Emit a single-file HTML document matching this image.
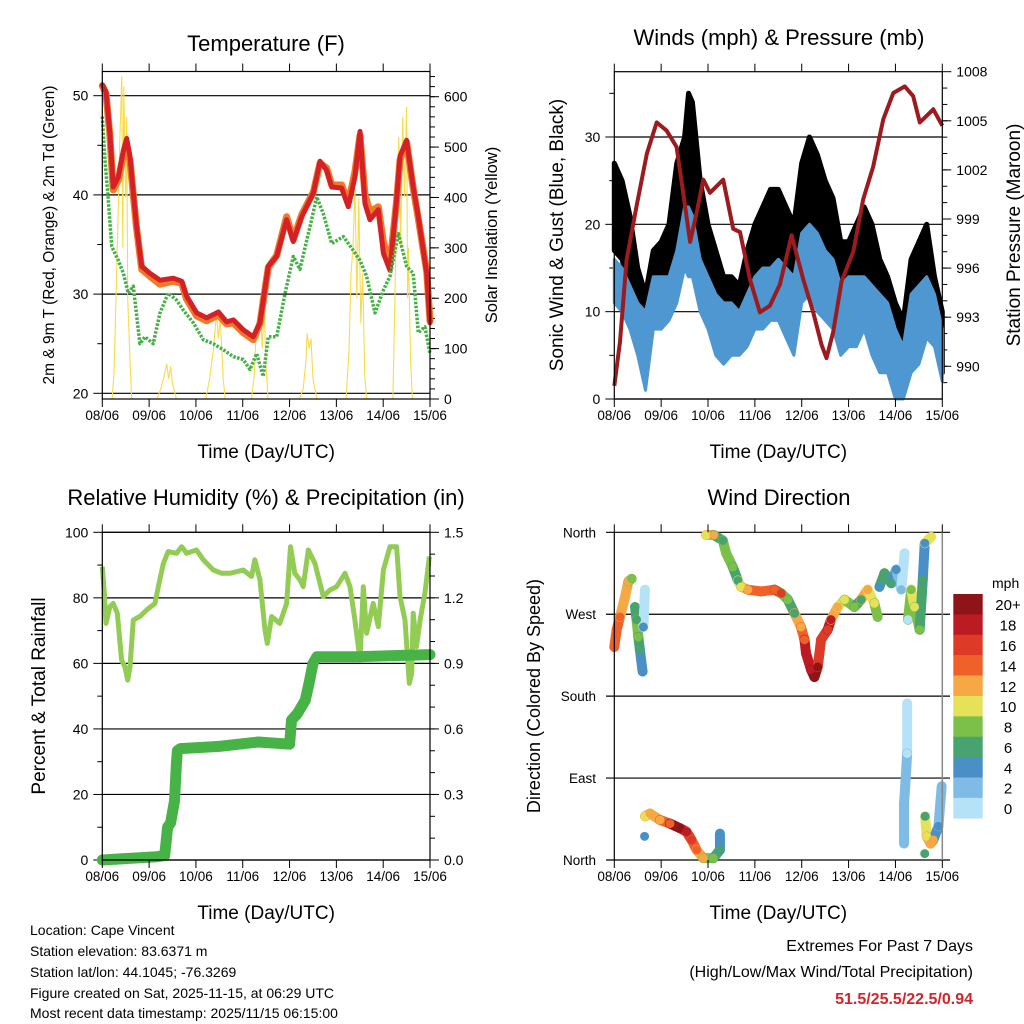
<!DOCTYPE html>
<html><head><meta charset="utf-8">
<style>
body{margin:0;background:#fff;}
svg{display:block;font-family:"Liberation Sans",Arial,sans-serif;}
</style></head>
<body>
<svg id="fig" width="1024" height="1024" viewBox="0 0 1024 1024" xmlns="http://www.w3.org/2000/svg">
<rect width="1024" height="1024" fill="#fff"/>
<g id="root"></g>
<g font-size="14" fill="#000">
<text x="30" y="935">Location: Cape Vincent</text>
<text x="30" y="956">Station elevation: 83.6371 m</text>
<text x="30" y="977">Station lat/lon: 44.1045; -76.3269</text>
<text x="30" y="998">Figure created on Sat, 2025-11-15, at 06:29 UTC</text>
<text x="30" y="1018">Most recent data timestamp: 2025/11/15 06:15:00</text>
</g>
<g text-anchor="end">
<text x="973" y="951" font-size="16">Extremes For Past 7 Days</text>
<text x="973" y="977" font-size="16">(High/Low/Max Wind/Total Precipitation)</text>
<text x="973" y="1004" font-size="16" font-weight="bold" fill="#d0262b">51.5/25.5/22.5/0.94</text>
</g>
</svg>
<script>
// ---------- DATA ----------
const dayLabels = ["08/06","09/06","10/06","11/06","12/06","13/06","14/06","15/06"];
// Temperature (hours since 08/06 00 UTC)
const t2T = [0,1.9,3.9,5.6,8.2,10.8,12.5,14.2,15.9,17.6,20.2,24.4,29.6,36.4,40.7,43.2,48.4,53.5,59.5,63.7,67.2,72.3,77.4,80.8,85.1,89.4,94.5,97.9,102.2,108.2,111.6,115,117.6,122.7,126.1,129.5,132.1,134.7,137.2,141.5,144.1,147.5,150.9,152.6,156,159.4,162,166.3,168];
const t2V = [51.1,50.4,46.2,40.8,41.8,44.5,45.7,43.9,40.2,36.8,32.8,32.1,31.4,31.6,31.3,29.8,28.1,27.6,28.2,27.2,27.4,26.4,25.7,27.1,32.8,33.8,37.5,35.3,37.8,40.2,43.4,42.5,40.8,40.7,38.8,41.8,46.4,39.1,37.5,38.5,34.1,32.4,39.5,43.9,45.5,40.8,37.8,32.1,27.1];
const t9V = [51.0,50.2,46.0,40.5,41.5,44.0,44.5,43.5,40.0,36.6,32.5,31.8,31.0,31.3,31.1,29.5,27.8,27.3,27.9,27.0,27.1,26.1,25.4,27.0,32.7,33.9,37.8,35.5,38.0,40.3,43.2,42.7,41.0,41.0,39.2,42.3,46.0,40.0,38.3,38.8,35.2,33.0,39.4,43.5,45.3,40.7,37.6,32.3,27.3];
const tdT = [0,1.4,3.1,4.8,8.2,10.8,13.3,15.9,19.3,21.9,26.1,29.6,33.8,38.1,41.5,46.7,51.8,56.9,62,67.2,72.3,75.7,79.1,82.5,85.1,89.4,93.7,97.9,101.3,106.5,109.9,113.3,117.6,123.6,128.7,132.1,135.5,139.8,144.1,147.5,151.8,156,159.4,162,165.4,168];
const tdV = [47.9,43.5,39.5,34.8,33.4,32.1,30.1,30.8,25.0,25.7,25.0,28.1,30.1,29.4,28.4,27.1,25.4,25.0,24.4,23.7,23.4,22.4,24.0,21.7,25.7,25.7,30.1,33.8,32.5,36.8,39.8,38.1,35.1,35.8,34.4,33.4,31.8,28.1,30.4,31.8,36.1,32.8,32.1,26.1,26.7,24.0];
const solT = [5,6,7,8,9,10,10.5,11,12,12.5,13,14,15, 28,30,32,33,34,35,36,38, 53,55,57,58.5,59.5,60.5,62,63, 76.5,78,79,80,81,82,83,84,85, 101,103,104.5,105,106,107,108,110, 125,126.5,127.5,128.5,129.5,130.5,131.5,132.5,133.5,134.5,135.5, 149,150,151,152,153,154,155,156,156.5,157,158,159];
const solV = [0,50,200,350,520,640,300,620,400,560,200,100,0, 0,20,50,70,40,65,30,0, 0,40,100,170,120,160,40,0, 0,50,150,120,200,100,180,60,0, 0,20,80,130,100,120,40,0, 0,100,250,300,420,200,400,150,250,50,0, 0,200,400,520,300,560,400,580,200,300,80,0];
// Winds & pressure
const wT = [0,4,8,12,16,20,24,28,32,36,38,40,44,48,52,56,60,64,68,72,76,80,84,88,92,96,100,104,108,112,116,120,124,128,132,136,140,144,148,152,156,160,164,168];
const gustLo = [17,16,12,9,8,13,13,14,16,18,18,17,14,12,9,8,8,9,10,12,14,14,15,12,13,18,20,17,16,13,10,11,12,15,12,8,7,3,2,8,9,12,10,3];
const gustHi = [27,25,21,15,12,17,18,20,27,30,35,34,25,20,17,14,14,13,17,20,22,24,24,22,20,27,30,28,25,23,18,18,20,22,20,16,14,11,9,16,18,20,14,10];
const windLo = [11,10,8,5,1,8,8,9,11,15,14,14,10,8,5,4,5,5,6,8,8,9,9,7,5,11,12,10,9,8,5,6,6,8,5,3,3,0,0,3,4,7,6,2];
const windHi = [16,15,13,11,10,14,14,14,17,22,22,21,16,14,12,11,11,10,12,14,15,15,16,15,14,19,20,19,17,16,13,14,14,14,13,12,11,8,6,12,13,14,12,8];
const presT = [0,2.9,6.3,11.4,16.7,21.7,26.8,31.9,35.3,38.8,42.2,45.6,49,55.8,60.9,64.4,69.5,74.6,79.7,84.8,90.8,96.8,101.9,106.2,108.7,112.1,116.4,122.4,127.5,132.6,137.8,142.9,148.8,153.1,156.5,159.9,163.4,168];
const presV = [988.8,991.5,996.5,999.8,1003.0,1004.9,1004.4,1003.4,1000.6,997.6,999.4,1001.4,1000.6,1001.4,998.4,998.2,995.3,993.3,993.7,995.0,998.0,995.3,993.3,991.3,990.5,992.1,995.2,997.0,1000.2,1002.2,1005.1,1006.7,1007.1,1006.5,1004.9,1005.3,1005.7,1004.7];
// RH & precip
const rhT = [0,0.9,1.9,3.9,5.6,7.7,9.9,11.6,13,14.2,15.9,19.3,22.7,27,28.7,31.3,33.8,38.1,40.7,43.2,48.3,51.8,56.9,61.2,65.4,72.3,76.5,78.2,80.8,83.4,84.6,86.8,91,94.5,96.5,98.7,101.3,103,105.6,109,113.3,116.7,120.1,124.4,127,129.5,132.1,133.8,135.5,138.9,141.5,144.1,147.5,150.9,152.6,155.2,157.4,158.6,159.4,161.1,162.9,165.4,167.7];
const rhV = [89.5,82.4,72.2,77.3,78.3,75.3,61.0,59.0,54.9,59.0,73.2,74.3,76.3,78.3,83.4,90.5,94.1,93.6,95.6,93.6,94.6,91.6,88.5,87.5,87.5,88.5,86.5,91.6,85.5,70.2,66.1,74.3,72.2,78.3,95.6,87.5,85.5,83.4,94.6,90.5,80.4,82.4,83.4,87.5,83.4,73.2,61.0,83.4,69.2,78.3,71.2,88.5,95.6,95.6,80.4,73.2,53.9,57.0,75.3,65.1,73.2,81.4,92.6];
const prT = [0,28,32,33.5,35,37,38,38.5,40,60,80,96,97,100,104,106,108,110,130,168];
const prV = [0,0.015,0.02,0.15,0.17,0.27,0.44,0.50,0.51,0.52,0.54,0.53,0.64,0.67,0.73,0.81,0.90,0.93,0.93,0.94];
// Wind direction (degrees, 0=N), speeds (mph); groups split continuous runs
const dirT = [0,1.2,2.9,5.5,7.2,8.9, 10.6,11.4,12.3,13.1,14.5, 14.9,15.7, 15.7,18.3,23.4,28.5,33.6,37,39.6,42.2,45.6,50.7,54.1,54.1, 47,51,55.6,57.3,60.7,63.3,65,68.4,75.3,82,85.5,88.9,92.3,95.6,97.4,98.2,100.8,102.5,104.2,105.9,109.3,111,114.4,117.9,123,126.4,129.8,133.2,134.9, 135.8,138.4,141.9,144.4,147,148.7, 150.4,152.1,153.8,156.4,158,159,162.3, 150,150,149,148.4,148.4, 159.2,160,162,163.4,166,167.7, 15.5,159];
const dirV = [234,253,267,289,306,309, 278,264,245,231,207, 256,297, 48,51,44,40,35,31,22,11,2,2,11,29, 357,357,351,337,322,307,300,297,295,297,293,286,271,256,242,227,209,201,212,242,253,264,278,286,278,286,297,282,267, 300,315,304,319,297,337, 264,297,278,253,308,348,355, 172,117,81,62,18, 48,26,18,22,37,81, 26,7];
const dirS = [14,14,14,12,12,9, 6,6,9,6,4, 4,0, 10,12,12,14,20,18,16,14,12,8,6,4, 10,12,6,8,8,6,10,12,14,14,16,8,6,12,14,18,18,20,20,16,16,18,12,10,8,6,12,10,8, 4,6,6,4,2,0, 0,8,10,8,6,4,10, 0,0,2,2,2, 6,10,12,12,4,2, 4,6];
const dirG = [0,0,0,0,0,0, 1,1,1,1,1, 2,2, 3,3,3,3,3,3,3,3,3,3,3,3, 4,4,4,4,4,4,4,4,4,4,4,4,4,4,4,4,4,4,4,4,4,4,4,4,4,4,4,4,4, 5,5,5,5,5,5, 6,6,6,6,6,6,6, 7,7,7,7,7, 8,8,8,8,8,8, 9,10];
const speedLabels = ["20+","18","16","14","12","10","8","6","4","2","0"];
const speedColors = ["#8f1418","#bb1c24","#dd3a28","#f0612a","#f5a843","#e5e25a","#7cc04a","#48a36e","#4a8fc5","#7fbce5","#b6e2f7"];

// ---------- HELPERS ----------
const NS="http://www.w3.org/2000/svg";
const root=document.getElementById('root');
function mk(tag,attrs,parent){const e=document.createElementNS(NS,tag);for(const k in attrs)e.setAttribute(k,attrs[k]);(parent||root).appendChild(e);return e;}
function txt(s,attrs,parent){const e=mk('text',attrs,parent);e.textContent=s;return e;}
function panel(x0,x1,y0,y1){return {x0,x1,y0,y1,xs:t=>x0+t/168*(x1-x0)};}
function lin(v0,v1,p0,p1){return v=>p0+(v-v0)/(v1-v0)*(p1-p0);}
function pathOf(ts,vs,xs,ys){return ts.map((t,i)=>(i?'L':'M')+xs(t).toFixed(1)+','+ys(vs[i]).toFixed(1)).join('');}

function xAxis(p,g,labelY,titleY){
  for(let d=0;d<=7;d++){
    const x=p.xs(d*24);
    mk('line',{x1:x,x2:x,y1:p.y1,y2:p.y1+8,stroke:'#000','stroke-width':1},g);
    mk('line',{x1:x,x2:x,y1:p.y0-8,y2:p.y0,stroke:'#000','stroke-width':1},g);
    const t=txt(dayLabels[d],{x:x,y:labelY,'font-size':13.5,'text-anchor':'middle'},g);
    
    
  }
  const tt=txt('Time (Day/UTC)',{x:(p.x0+p.x1)/2,y:titleY,'font-size':19,'text-anchor':'middle'},g);
  
  
}
function yTicks(p,g,side,vals,ys,labels,minor,grid){
  const x=side==='l'?p.x0:p.x1, dir=side==='l'?-1:1;
  vals.forEach((v,i)=>{
    const y=ys(v);
    mk('line',{x1:x,x2:x+dir*9,y1:y,y2:y,stroke:'#000','stroke-width':1},g);
    if(grid) mk('line',{x1:p.x0,x2:p.x1,y1:y,y2:y,stroke:'#000','stroke-width':1.2},g);
    const t=txt(labels[i],{x:x+dir*14,y:y+5,'font-size':14,'text-anchor':side==='l'?'end':'start'},g);
    
    
  });
  (minor||[]).forEach(v=>{const y=ys(v);mk('line',{x1:x,x2:x+dir*5,y1:y,y2:y,stroke:'#000','stroke-width':1},g);});
}
function frame(p,g){mk('rect',{x:p.x0,y:p.y0,width:p.x1-p.x0,height:p.y1-p.y0,fill:'none',stroke:'#000','stroke-width':1.2},g);}
function vtitle(s,x,y,size,g,name){const t=txt(s,{x:x,y:y,'font-size':size,'text-anchor':'middle',transform:`rotate(-90 ${x} ${y})`},g);}
function range(a,b,s){const r=[];for(let v=a;v<=b+1e-9;v+=s)r.push(+v.toFixed(3));return r;}

// ---------- PANEL 1: TEMPERATURE ----------
{
const p=panel(102.3,430,71.5,399);
const g=mk('g',{});


const yl=lin(20,50,393.3,95.7), yr=lin(0,600,399,96.7);
const tt=txt('Temperature (F)',{x:266,y:51,'font-size':22,'text-anchor':'middle'},g);


yTicks(p,g,'l',[20,30,40,50],yl,['20','30','40','50'],[25,35,45],true);
yTicks(p,g,'r',[0,100,200,300,400,500,600],yr,['0','100','200','300','400','500','600'],range(20,640,20),false);
const sol=mk('path',{d:pathOf(solT,solV,p.xs,yr),fill:'none',stroke:'#f7dc4a','stroke-width':1.1},g);


const o=mk('path',{d:pathOf(t2T,t9V,p.xs,yl),fill:'none',stroke:'#f07a2a','stroke-width':7,'stroke-linejoin':'round','stroke-linecap':'round'},g);


const r=mk('path',{d:pathOf(t2T,t2V,p.xs,yl),fill:'none',stroke:'#d42126','stroke-width':5,'stroke-linejoin':'round','stroke-linecap':'round'},g);


const d=mk('path',{d:pathOf(tdT,tdV,p.xs,yl),fill:'none',stroke:'#45b045','stroke-width':3.5,'stroke-dasharray':'2.5 1.5','stroke-linejoin':'round'},g);


frame(p,g);
xAxis(p,g,420,458);
vtitle('2m & 9m T (Red, Orange) & 2m Td (Green)',54,235,15.5,g,'temperature-y-title');
vtitle('Solar Insolation (Yellow)',497,235,16.5,g,'solar-y-title');
}

// ---------- PANEL 2: WINDS & PRESSURE ----------
{
const p=panel(614.3,942.3,71.7,399);
const g=mk('g',{});


const yl=lin(0,30,399,137), yr=lin(988,1008,399,71.7);
const tt=txt('Winds (mph) & Pressure (mb)',{x:779,y:45,'font-size':22,'text-anchor':'middle'},g);


yTicks(p,g,'l',[0,10,20,30],yl,['0','10','20','30'],[5,15,25,35],true);
yTicks(p,g,'r',[990,993,996,999,1002,1005,1008],yr,['990','993','996','999','1002','1005','1008'],range(989,1007,1),false);
const band=(lo,hi,col,w,name)=>{
  const dd=pathOf(wT,hi,p.xs,yl)+pathOf(wT.slice().reverse(),lo.slice().reverse(),p.xs,yl).replace('M','L')+'Z';
  const e=mk('path',{d:dd,fill:col,stroke:col,'stroke-width':w,'stroke-linejoin':'round'},g);
  
  
};
band(gustLo,gustHi,'#000',5,'gust-band');
band(windLo,windHi,'#4f97d0',3,'wind-band');
const pr=mk('path',{d:pathOf(presT,presV,p.xs,yr),fill:'none',stroke:'#9b1b1e','stroke-width':4,'stroke-linejoin':'round'},g);


frame(p,g);
xAxis(p,g,420,458);
vtitle('Sonic Wind & Gust (Blue, Black)',563,235,19,g,'wind-y-title');
vtitle('Station Pressure (Maroon)',1020,235,19,g,'pressure-y-title');
}

// ---------- PANEL 3: RH & PRECIP ----------
{
const p=panel(102.3,430,532.3,860);
const g=mk('g',{});


const yl=lin(0,100,860,532.3), yr=lin(0,1.5,860,532.3);
const tt=txt('Relative Humidity (%) & Precipitation (in)',{x:266,y:505,'font-size':22,'text-anchor':'middle'},g);


yTicks(p,g,'l',[0,20,40,60,80,100],yl,['0','20','40','60','80','100'],[10,30,50,70,90],true);
yTicks(p,g,'r',[0,0.3,0.6,0.9,1.2,1.5],yr,['0.0','0.3','0.6','0.9','1.2','1.5'],range(0.1,1.4,0.1),false);
const rh=mk('path',{d:pathOf(rhT,rhV,p.xs,yl),fill:'none',stroke:'#93cc55','stroke-width':5,'stroke-linejoin':'round'},g);


const pc=mk('path',{d:pathOf(prT,prV,p.xs,yr),fill:'none',stroke:'#47b347','stroke-width':11,'stroke-linejoin':'round','stroke-linecap':'round'},g);


frame(p,g);
xAxis(p,g,881,919);
vtitle('Percent & Total Rainfall',45,696,19,g,'humidity-y-title');
}

// ---------- PANEL 4: WIND DIRECTION ----------
{
const p=panel(614.3,942.3,532.3,860);
const g=mk('g',{});


const ys=lin(0,360,860,532.3);
const tt=txt('Wind Direction',{x:779,y:505,'font-size':22,'text-anchor':'middle'},g);


const dnames=['North','East','South','West','North'];
[0,90,180,270,360].forEach((v,i)=>{
  const y=ys(v);
  mk('line',{x1:606,x2:950,y1:y,y2:y,stroke:'#000','stroke-width':1.2},g);
  const t=txt(dnames[i],{x:596,y:y+5,'font-size':13.5,'text-anchor':'end'},g);
  
  
});
const col=s=>speedColors[Math.max(0,Math.min(10,10-Math.floor(s/2)))];
for(let i=1;i<dirT.length;i++){
  if(dirG[i]!==dirG[i-1])continue;
  const seg=mk('line',{x1:p.xs(dirT[i-1]),y1:ys(dirV[i-1]),x2:p.xs(dirT[i]),y2:ys(dirV[i]),stroke:col(dirS[i]),'stroke-width':10,'stroke-linecap':'round'},g);
  
  
}
dirT.forEach((t,i)=>{
  const c=mk('circle',{cx:p.xs(t),cy:ys(dirV[i]),r:4.5,fill:col(dirS[i])},g);
  
  
});
mk('line',{x1:p.x0,x2:p.x0,y1:p.y0,y2:p.y1,stroke:'#000','stroke-width':1.2},g);
mk('line',{x1:p.x1,x2:p.x1,y1:p.y0,y2:p.y1,stroke:'#888','stroke-width':1.5},g);
xAxis(p,g,881,919);
vtitle('Direction (Colored By Speed)',540,696,18,g,'direction-y-title');
// colorbar
const cb=mk('g',{},g);


const bh=(818.3-594)/11;
speedColors.forEach((c,i)=>{
  const r=mk('rect',{x:953.3,y:594+i*bh,width:29.4,height:bh+0.3,fill:c},cb);
  
  
  const t=txt(speedLabels[i],{x:1008,y:594+i*bh+bh/2+6,'font-size':15,'text-anchor':'middle'},cb);
  
  
});
const mt=txt('mph',{x:992,y:588,'font-size':14},cb);


}
</script>
</body></html>
